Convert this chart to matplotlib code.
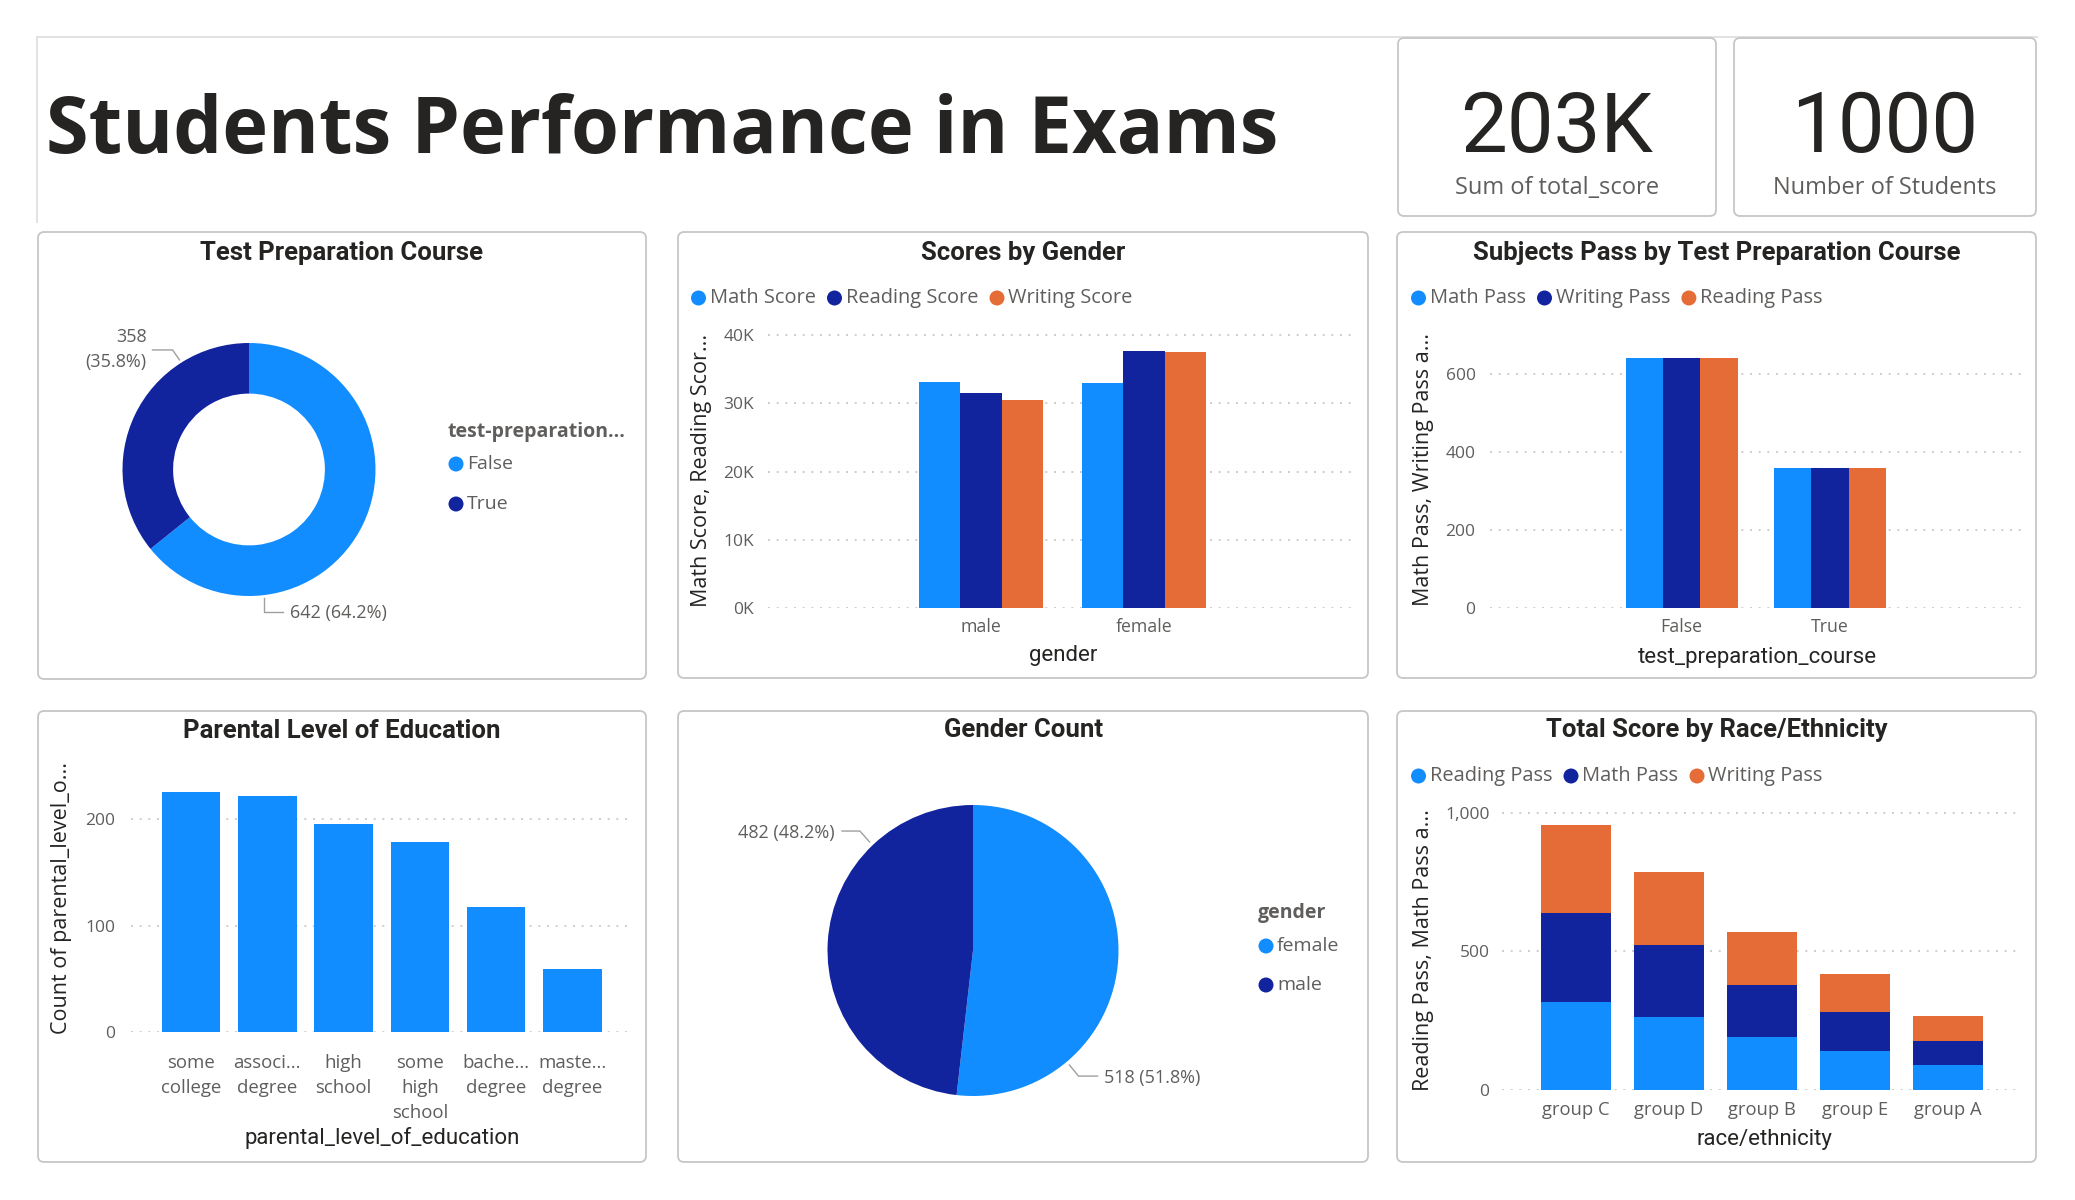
import matplotlib
matplotlib.use("Agg")
import matplotlib.pyplot as plt
from matplotlib.patches import FancyBboxPatch, Ellipse
from matplotlib.lines import Line2D

W, H = 2075, 1200

LIGHT = "#118DFF"
DARK = "#12239E"
ORANGE = "#E66C37"
GREY = "#605E5C"
INK = "#252423"
BORDER = "#C8C6C4"
GRID = "#C8C6C4"
SEG = ["Open Sans", "DejaVu Sans"]
DIN = ["Roboto", "DejaVu Sans"]

# ---- data ----
kpi_values = ["203K", "1000"]
kpi_labels = ["Sum of total_score", "Number of Students"]

prep_labels = ["False", "True"]
prep_counts = [642, 358]

genders = ["male", "female"]
score_series = ["Math Score", "Reading Score", "Writing Score"]
math_score = [33127, 32962]
reading_score = [31558, 37611]
writing_score = [30516, 37538]

pass_groups = ["False", "True"]
pass_series = ["Math Pass", "Writing Pass", "Reading Pass"]
math_pass = [642, 358]
writing_pass = [642, 358]
reading_pass = [642, 358]

edu_labels = ["some\ncollege", "associ...\ndegree", "high\nschool",
              "some\nhigh\nschool", "bache...\ndegree", "maste...\ndegree"]
edu_counts = [226, 222, 196, 179, 118, 59]

gender_labels = ["female", "male"]
gender_counts = [518, 482]

race_groups = ["group C", "group D", "group B", "group E", "group A"]
race_series = ["Reading Pass", "Math Pass", "Writing Pass"]
race_reading = [319, 262, 190, 140, 89]
race_math = [319, 262, 190, 140, 89]
race_writing = [319, 262, 190, 140, 89]


fig = plt.figure(figsize=(W / 100, H / 100), dpi=100)
fig.patch.set_facecolor("white")
renderer = fig.canvas.get_renderer()


def fx(x):
    return x / W


def fy(y):
    return 1 - y / H


def add_ax(x0, y0, x1, y1):
    ax = fig.add_axes([fx(x0), fy(y1), (x1 - x0) / W, (y1 - y0) / H])
    ax.patch.set_alpha(0)
    return ax


def panel(x0, y0, x1, y1, title=None, ty=None):
    box = FancyBboxPatch((fx(x0), fy(y1)), (x1 - x0) / W, (y1 - y0) / H,
                         boxstyle="round,pad=0,rounding_size=0.003",
                         mutation_aspect=W / H, transform=fig.transFigure,
                         fc="white", ec=BORDER, lw=1.3, zorder=-5)
    fig.add_artist(box)
    if title:
        fig.text(fx((x0 + x1) / 2), fy(ty), title, ha="center", va="center",
                 fontsize=18.5, fontweight="bold", family=DIN, color=INK)


def dot(cx, cy, color, d=15):
    fig.add_artist(Ellipse((fx(cx), fy(cy)), d / W, d / H, transform=fig.transFigure,
                           fc=color, ec="none"))


def hlegend(x, y, labels, colors, fs=14.4):
    for lab, col in zip(labels, colors):
        dot(x + 7.5, y, col)
        t = fig.text(fx(x + 19), fy(y), lab, ha="left", va="center",
                     fontsize=fs, family=SEG, color=GREY)
        x = x + 19 + t.get_window_extent(renderer).width + 11


def vlegend(x, y, title, labels, colors, ys):
    fig.text(fx(x), fy(y), title, ha="left", va="center", fontsize=14,
             fontweight="bold", family=SEG, color=GREY)
    for lab, col, yy in zip(labels, colors, ys):
        dot(x + 8, yy, col)
        fig.text(fx(x + 19), fy(yy), lab, ha="left", va="center",
                 fontsize=14, family=SEG, color=GREY)


def style_bar_axes(ax, xpad, ypad, size=12.8):
    for s in ax.spines.values():
        s.set_visible(False)
    ax.yaxis.grid(True, ls=(0, (1.2, 4)), color=GRID, lw=1.2)
    ax.set_axisbelow(True)
    ax.tick_params(axis="x", length=0, pad=xpad, labelsize=size, labelcolor=GREY)
    ax.tick_params(axis="y", length=0, pad=ypad, labelsize=12.5, labelcolor=GREY)
    for lab in ax.get_xticklabels() + ax.get_yticklabels():
        lab.set_family(SEG)


def ylab(x, y, text):
    fig.text(fx(x), fy(y), text, rotation=90, ha="center", va="center",
             fontsize=15.5, family=SEG, color=INK)


def xlab(x, y, text):
    fig.text(fx(x), fy(y), text, ha="center", va="center",
             fontsize=16, family=DIN, color=INK)


# ---- header ----
fig.add_artist(Line2D([fx(37), fx(2037)], [fy(37), fy(37)], color="#E1DFDD", lw=1.3,
                      transform=fig.transFigure, zorder=-6))
fig.add_artist(Line2D([fx(37), fx(37)], [fy(37), fy(222)], color="#E1DFDD", lw=1.3,
                      transform=fig.transFigure, zorder=-6))
t = fig.text(fx(46), fy(153), "Students Performance in Exams", ha="left", va="baseline",
             fontsize=60, fontweight="bold", family=SEG, color=INK)
t.set_fontsize(60 * 1233 / t.get_window_extent(renderer).width)

cards = [(1398, 1716), (1734, 2036)]
for (c0, c1), val, lab in zip(cards, kpi_values, kpi_labels):
    panel(c0, 38, c1, 216)
    cx = (c0 + c1) / 2
    fig.text(fx(cx), fy(152), val, ha="center", va="baseline", fontsize=60,
             family=DIN, color=INK)
    fig.text(fx(cx), fy(188), lab, ha="center", va="center", fontsize=17,
             family=SEG, color=GREY)

# ---- Test Preparation Course (donut) ----
panel(38, 232, 646, 679, "Test Preparation Course", 253)
r = 126.5
cx, cy = 249, 469.5
ax = add_ax(cx - r, cy - r, cx + r, cy + r)
ax.pie(prep_counts, colors=[LIGHT, DARK], startangle=90, counterclock=False,
       wedgeprops=dict(width=0.4, edgecolor="none"))
ax.set_xlim(-1, 1)
ax.set_ylim(-1, 1)
tot = sum(prep_counts)
ax.plot([-0.763, -0.604, -0.549], [0.945, 0.945, 0.866], color="#A19F9D", lw=1, clip_on=False)
ax.text(-0.81, 0.945, f"{prep_counts[1]}\n({prep_counts[1] / tot * 100:.1f}%)", ha="right",
        va="center", fontsize=13, family=SEG, color=GREY, linespacing=1.5)
ax.plot([0.119, 0.119, 0.269], [-1.016, -1.126, -1.126], color="#A19F9D", lw=1, clip_on=False)
ax.text(0.324, -1.134, f"{prep_counts[0]} ({prep_counts[0] / tot * 100:.1f}%)", ha="left",
        va="center", fontsize=13, family=SEG, color=GREY)
vlegend(448, 432, "test-preparation...", prep_labels, [LIGHT, DARK], [464, 504])

# ---- Scores by Gender ----
panel(678, 232, 1368, 678, "Scores by Gender", 253)
hlegend(691, 298, score_series, [LIGHT, DARK, ORANGE])
ax = add_ax(768, 332, 1357, 608)
w = 0.252
xs = range(len(genders))
for i, (vals, col) in enumerate(zip([math_score, reading_score, writing_score], [LIGHT, DARK, ORANGE])):
    ax.bar([x + (i - 1) * w for x in xs], vals, width=w, color=col, zorder=3)
ax.set_xlim(-1.306, 2.306)
ax.set_ylim(0, 40440)
ax.set_xticks(list(xs))
ax.set_xticklabels(genders)
yt = [0, 10000, 20000, 30000, 40000]
ax.set_yticks(yt)
ax.set_yticklabels([f"{v // 1000}K" for v in yt])
style_bar_axes(ax, 7, 10)
ylab(702, 470, "Math Score, Reading Scor...")
xlab(1063, 656, "gender")

# ---- Subjects Pass by Test Preparation Course ----
panel(1397, 232, 2036, 678, "Subjects Pass by Test Preparation Course", 253)
hlegend(1411, 298, pass_series, [LIGHT, DARK, ORANGE])
ax = add_ax(1489.5, 332, 2022, 608)
xs = range(len(pass_groups))
for i, (vals, col) in enumerate(zip([math_pass, writing_pass, reading_pass], [LIGHT, DARK, ORANGE])):
    ax.bar([x + (i - 1) * w for x in xs], vals, width=w, color=col, zorder=3)
ax.set_xlim(-1.297, 2.297)
ax.set_ylim(0, 708)
ax.set_xticks(list(xs))
ax.set_xticklabels(pass_groups)
ax.set_yticks([0, 200, 400, 600])
style_bar_axes(ax, 7, 10)
ylab(1423, 470, "Math Pass, Writing Pass a...")
xlab(1757, 657, "test_preparation_course")

# ---- Parental Level of Education ----
panel(38, 711, 646, 1162, "Parental Level of Education", 731)
ax = add_ax(130.5, 763, 633, 1032)
xs = range(len(edu_labels))
ax.bar(list(xs), edu_counts, width=0.767, color=LIGHT, zorder=3)
ax.set_xlim(-0.793, 5.793)
ax.set_ylim(0, 253)
ax.set_xticks(list(xs))
ax.set_xticklabels(edu_labels, linespacing=1.5)
ax.set_yticks([0, 100, 200])
style_bar_axes(ax, 16, 11, size=13.4)
ylab(62, 897.5, "Count of parental_level_o...")
xlab(382.5, 1138, "parental_level_of_education")

# ---- Gender Count (pie) ----
panel(678, 711, 1368, 1162, "Gender Count", 730)
r = 145.5
cx, cy = 973, 950.5
ax = add_ax(cx - r, cy - r, cx + r, cy + r)
ax.pie(gender_counts, colors=[LIGHT, DARK], startangle=90, counterclock=False,
       wedgeprops=dict(edgecolor="none"))
ax.set_xlim(-1, 1)
ax.set_ylim(-1, 1)
tot = sum(gender_counts)
ax.plot([-0.900, -0.777, -0.711], [0.821, 0.821, 0.746], color="#A19F9D", lw=1, clip_on=False)
ax.text(-0.948, 0.808, f"{gender_counts[1]} ({gender_counts[1] / tot * 100:.1f}%)", ha="right",
        va="center", fontsize=13, family=SEG, color=GREY)
ax.plot([0.663, 0.725, 0.856], [-0.787, -0.863, -0.863], color="#A19F9D", lw=1, clip_on=False)
ax.text(0.900, -0.876, f"{gender_counts[0]} ({gender_counts[0] / tot * 100:.1f}%)", ha="left",
        va="center", fontsize=13, family=SEG, color=GREY)
vlegend(1258, 913, "gender", gender_labels, [LIGHT, DARK], [946, 985])

# ---- Total Score by Race/Ethnicity ----
panel(1397, 711, 2036, 1162, "Total Score by Race/Ethnicity", 730)
hlegend(1411, 776, race_series, [LIGHT, DARK, ORANGE])
ax = add_ax(1502, 811, 2022, 1090)
xs = list(range(len(race_groups)))
bottom = [0] * len(xs)
for vals, col in zip([race_reading, race_math, race_writing], [LIGHT, DARK, ORANGE]):
    ax.bar(xs, vals, width=0.763, bottom=bottom, color=col, zorder=3)
    bottom = [b + v for b, v in zip(bottom, vals)]
ax.set_xlim(-0.796, 4.796)
ax.set_ylim(0, 1007)
ax.set_xticks(xs)
ax.set_xticklabels(race_groups)
ax.set_yticks([0, 500, 1000])
ax.set_yticklabels([f"{v:,}" for v in [0, 500, 1000]])
style_bar_axes(ax, 8, 9, size=13.2)
ylab(1423, 950.5, "Reading Pass, Math Pass a...")
xlab(1764.7, 1139, "race/ethnicity")

fig.savefig("out.png", dpi=100, facecolor="white")
